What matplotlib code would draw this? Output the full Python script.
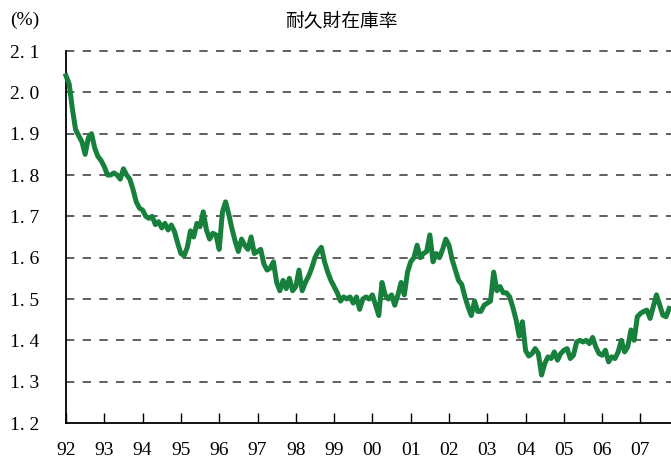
import numpy as np
import matplotlib
matplotlib.use('Agg')
import matplotlib.pyplot as plt

# Durable goods inventory ratio, monthly from Jan 1992
start_year = 1992
ratio = [
    # 1992
    2.04, 2.02, 1.96, 1.91, 1.895, 1.88, 1.85, 1.89, 1.90, 1.865, 1.845, 1.835,
    # 1993
    1.82, 1.80, 1.80, 1.805, 1.80, 1.79, 1.815, 1.80, 1.79, 1.765, 1.735, 1.72,
    # 1994
    1.715, 1.70, 1.695, 1.70, 1.68, 1.687, 1.672, 1.683, 1.667, 1.679, 1.663, 1.635,
    # 1995
    1.61, 1.605, 1.625, 1.665, 1.65, 1.683, 1.675, 1.711, 1.667, 1.645, 1.659, 1.655,
    # 1996
    1.62, 1.71, 1.735, 1.705, 1.67, 1.64, 1.615, 1.645, 1.63, 1.62, 1.65, 1.61,
    # 1997
    1.615, 1.62, 1.585, 1.57, 1.575, 1.59, 1.54, 1.52, 1.545, 1.525, 1.55, 1.52,
    # 1998
    1.53, 1.57, 1.52, 1.54, 1.555, 1.575, 1.60, 1.615, 1.625, 1.59, 1.565, 1.545,
    # 1999
    1.53, 1.515, 1.495, 1.505, 1.50, 1.505, 1.49, 1.505, 1.475, 1.50, 1.505, 1.50,
    # 2000
    1.51, 1.485, 1.46, 1.54, 1.51, 1.50, 1.51, 1.485, 1.51, 1.54, 1.51, 1.565,
    # 2001
    1.59, 1.60, 1.63, 1.60, 1.61, 1.615, 1.655, 1.59, 1.61, 1.60, 1.62, 1.645,
    # 2002
    1.63, 1.595, 1.57, 1.545, 1.535, 1.505, 1.48, 1.46, 1.495, 1.47, 1.47, 1.485,
    # 2003
    1.49, 1.495, 1.565, 1.52, 1.53, 1.515, 1.515, 1.505, 1.48, 1.45, 1.41, 1.445,
    # 2004
    1.375, 1.362, 1.368, 1.38, 1.368, 1.316, 1.344, 1.36, 1.356, 1.372, 1.352, 1.368,
    # 2005
    1.376, 1.38, 1.356, 1.364, 1.396, 1.40, 1.396, 1.40, 1.392, 1.407, 1.384, 1.368,
    # 2006
    1.364, 1.376, 1.348, 1.36, 1.356, 1.372, 1.40, 1.372, 1.384, 1.425, 1.40, 1.457,
    # 2007
    1.465, 1.47, 1.473, 1.453, 1.482, 1.51, 1.486, 1.461, 1.457, 1.477,
]
years = list(range(1992, 2008))
year_labels = ['92', '93', '94', '95', '96', '97', '98', '99',
               '00', '01', '02', '03', '04', '05', '06', '07']
y_ticks = [1.2, 1.3, 1.4, 1.5, 1.6, 1.7, 1.8, 1.9, 2.0, 2.1]
title = '耐久財在庫率'

x = start_year + np.arange(len(ratio)) / 12.0

fig = plt.figure(figsize=(6.71, 4.68), dpi=100)
ax = fig.add_axes([66 / 671, 1 - 423 / 468, 1 - 66 / 671, (423 - 51) / 468])

ax.plot(x, ratio, color='#17803d', linewidth=3.6, solid_joinstyle='round',
        zorder=3, clip_on=False)

ax.set_xlim(1992, 1992 + (671 - 66) / 38.3)
ax.set_ylim(1.2, 2.1)

# dashed horizontal grid
for v in y_ticks[1:]:
    ax.axhline(v, color='#444444', linewidth=1.2, dashes=(5, 5), zorder=1,
               clip_on=False)

for side in ['top', 'right']:
    ax.spines[side].set_visible(False)
ax.spines['left'].set_linewidth(1.3)
ax.spines['bottom'].set_linewidth(1.3)

serif = ['Liberation Serif', 'DejaVu Serif']
ax.set_yticks(y_ticks)
ax.set_yticklabels(['%.0f. %d' % (int(v), round(v * 10) % 10) for v in y_ticks],
                   fontsize=14, family=serif, ha='left')
# labels start ~56 px left of the axis
ax.tick_params(axis='y', length=0, pad=40)

ax.set_xticks(years)
ax.set_xticklabels(year_labels, fontsize=14, family=serif)
ax.tick_params(axis='x', direction='in', length=7, width=1, pad=14)

fig.text(10 / 671, 1 - 20 / 468, '(%)', fontsize=14, family=serif, va='center')
fig.text(341 / 671, 1 - 22 / 468, title, fontsize=13.5,
         family=['Noto Sans CJK JP', 'DejaVu Sans'], ha='center', va='center')

fig.savefig('out.png', dpi=100)
